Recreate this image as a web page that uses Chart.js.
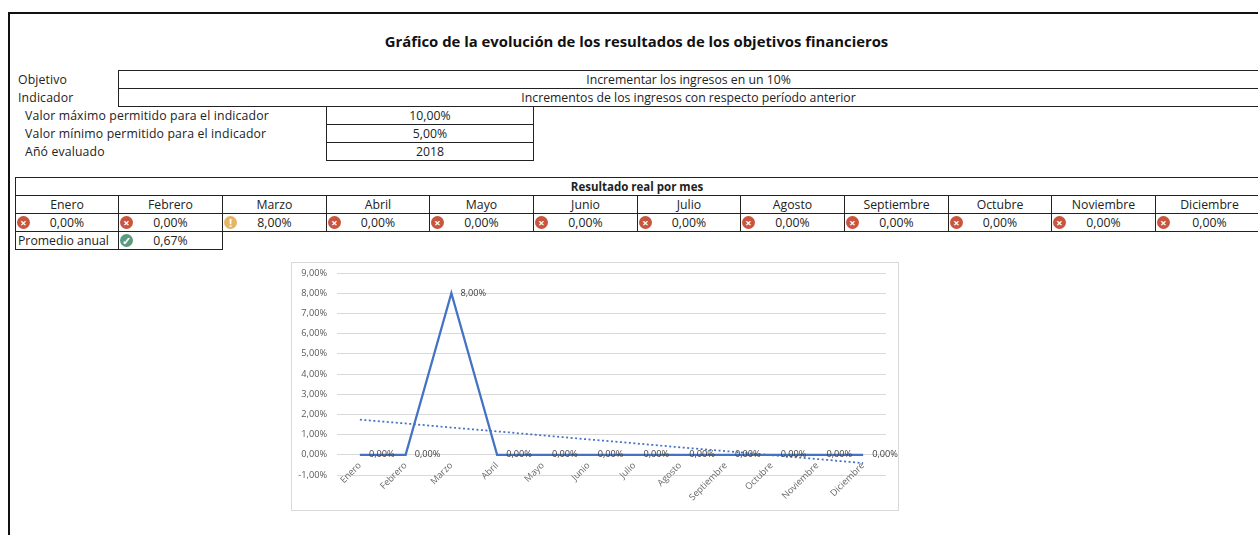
<!DOCTYPE html>
<html lang="es">
<head>
<meta charset="utf-8">
<title>Gráfico de la evolución</title>
<script src="https://cdn.jsdelivr.net/npm/chart.js"></script>
<style>
  html, body { margin: 0; padding: 0; background: #fff; overflow: hidden; }
  body { width: 1258px; height: 535px; position: relative; font-family: "Open Sans", sans-serif; font-size: 12.25px; color: #222; }
  #frame { position: absolute; left: 8px; top: 12px; width: 1250px; height: 523px; border-left: 2px solid #111; border-top: 2px solid #111; box-sizing: border-box; }
  #title { position: absolute; left: 0; width: 1273px; top: 31px; text-align: center; font-weight: 700; font-size: 14.85px; color: #111; }
  .cell { position: absolute; box-sizing: border-box; border: 1px solid #222; text-align: center; white-space: nowrap; line-height: 17px; }
  .open { border-right: none; }
  .wide { padding-right: 5px; }
  .left { text-align: left; padding-left: 2px; }
  .label { position: absolute; white-space: nowrap; line-height: 18px; letter-spacing: 0.15px; }
  .icon { position: absolute; left: 1px; top: 2px; width: 13px; height: 13px; border-radius: 50%; color: #fff; font-size: 11px; font-weight: 700; line-height: 13px; text-align: center; }
  .bad { background: #c8553d; }
  .warn { background: #e3b565; }
  .good { background: #5b9a82; }
  #chartBox { position: absolute; left: 291px; top: 262px; width: 608px; height: 249px; box-sizing: border-box; border: 1px solid #d9d9d9; background: #fff; }
  #chartBox canvas { position: absolute; left: -1px; top: -1px; }
</style>
</head>
<body>
<div id="frame"></div>
<div id="title">Gráfico de la evolución de los resultados de los objetivos financieros</div>
<div id="sheet"></div>
<div id="chartBox"><canvas id="evolucionChart" width="608" height="249"></canvas></div>

<script>
const months = ["Enero", "Febrero", "Marzo", "Abril", "Mayo", "Junio", "Julio", "Agosto", "Septiembre", "Octubre", "Noviembre", "Diciembre"];
const results = [0, 0, 8, 0, 0, 0, 0, 0, 0, 0, 0, 0];
const trend = [1.74, 1.55, 1.35, 1.16, 0.96, 0.76, 0.57, 0.37, 0.18, -0.02, -0.21, -0.41];
const yTicks = [9, 8, 7, 6, 5, 4, 3, 2, 1, 0, -1];
const status = ["bad", "bad", "warn", "bad", "bad", "bad", "bad", "bad", "bad", "bad", "bad", "bad"];
const statusGlyph = { bad: "×", warn: "!", good: "✓" };

function formatPercent(value) {
  return value.toFixed(2).replace(".", ",") + "%";
}

function addCell(left, top, right, bottom, text, extraClass, iconClass) {
  const cell = document.createElement("div");
  cell.className = "cell " + (extraClass || "");
  cell.style.left = left + "px";
  cell.style.top = top + "px";
  cell.style.width = right - left + 1 + "px";
  cell.style.height = bottom - top + 1 + "px";
  cell.textContent = text;
  if (iconClass) {
    const icon = document.createElement("span");
    icon.className = "icon " + iconClass;
    icon.textContent = statusGlyph[iconClass];
    cell.appendChild(icon);
  }
  document.getElementById("sheet").appendChild(cell);
  return cell;
}

function addLabel(left, top, text) {
  const label = document.createElement("div");
  label.className = "label";
  label.style.left = left + "px";
  label.style.top = top + "px";
  label.textContent = text;
  document.getElementById("sheet").appendChild(label);
}

function buildSheet() {
  addLabel(18, 71, "Objetivo");
  addLabel(18, 89, "Indicador");
  addCell(118, 70, 1262, 88, "Incrementar los ingresos en un 10%", "open wide");
  addCell(118, 88, 1262, 106, "Incrementos de los ingresos con respecto período anterior", "open wide");

  addLabel(25, 107, "Valor máximo permitido para el indicador");
  addLabel(25, 125, "Valor mínimo permitido para el indicador");
  addLabel(25, 143, "Añó evaluado");
  addCell(326, 106, 533, 124, "10,00%");
  addCell(326, 124, 533, 142, "5,00%");
  addCell(326, 142, 533, 160, "2018");

  const heading = addCell(15, 177, 1262, 195, "Resultado real por mes", "open wide");
  heading.style.fontWeight = "700";
  heading.style.fontSize = "11.5px";
  const edges = [15, 118, 222, 326, 429, 533, 637, 740, 844, 948, 1051, 1155, 1262];
  months.forEach((month, i) => {
    const extra = i === 11 ? "open" : "";
    addCell(edges[i], 195, edges[i + 1], 213, month, extra);
    addCell(edges[i], 213, edges[i + 1], 231, formatPercent(results[i]), extra, status[i]);
  });

  addCell(15, 231, 118, 249, "Promedio anual", "left");
  addCell(118, 231, 222, 249, "0,67%", "", "good");
}

// Excel leaves the month labels next to the zero line, above the bottom of the plot,
// and Chart.js clips its own ticks to the axis box, so they are drawn here
const chartLabels = {
  id: "chartLabels",
  afterDatasetsDraw(chart) {
    const ctx = chart.ctx;
    const xScale = chart.scales.x;
    const points = chart.getDatasetMeta(0).data;
    ctx.save();
    ctx.font = "9.2px 'Open Sans'";
    ctx.fillStyle = "#404040";
    ctx.textAlign = "left";
    ctx.textBaseline = "middle";
    points.forEach((point, i) => {
      ctx.fillText(formatPercent(results[i]), point.x + 9, point.y);
    });
    ctx.fillStyle = "#6a6a6a";
    ctx.textAlign = "right";
    months.forEach((month, i) => {
      ctx.save();
      ctx.translate(xScale.getPixelForValue(i), chart.chartArea.bottom - 11);
      ctx.rotate(-Math.PI / 4);
      ctx.fillText(month, 0, 0);
      ctx.restore();
    });
    ctx.restore();
  },
};

function displayChart() {
  new Chart(document.getElementById("evolucionChart").getContext("2d"), {
    type: "line",
    data: {
      labels: months,
      datasets: [
        {
          label: "Resultado",
          data: results,
          borderColor: "#4472c4",
          borderWidth: 2.25,
          pointRadius: 0,
          tension: 0,
          fill: false,
        },
        {
          label: "Tendencia",
          data: trend,
          borderColor: "#4472c4",
          borderWidth: 1.75,
          borderDash: [2, 2.5],
          pointRadius: 0,
          tension: 0,
          fill: false,
        },
      ],
    },
    options: {
      responsive: false,
      animation: false,
      layout: { padding: { top: 11, right: 13, left: 0, bottom: 0 } },
      plugins: { legend: { display: false }, tooltip: { enabled: false } },
      scales: {
        x: {
          offset: true,
          grid: { display: false },
          border: { display: false },
          afterFit: (axis) => { axis.height = 36; },
          ticks: { display: false },
        },
        y: {
          min: -1,
          max: 9,
          afterBuildTicks: (axis) => { axis.ticks = yTicks.map((value) => ({ value })); },
          afterFit: (axis) => {
            axis.width = 46;
            axis.paddingTop = 0;
            axis.paddingBottom = 0;
          },
          grid: { color: "#d9d9d9", lineWidth: 1, drawTicks: false },
          border: { display: false },
          ticks: {
            padding: 10,
            color: "#595959",
            font: { family: "Open Sans", size: 9.2 },
            callback: (value) => formatPercent(value),
          },
        },
      },
    },
    plugins: [chartLabels],
  });
}

buildSheet();
displayChart();
</script>
</body>
</html>
